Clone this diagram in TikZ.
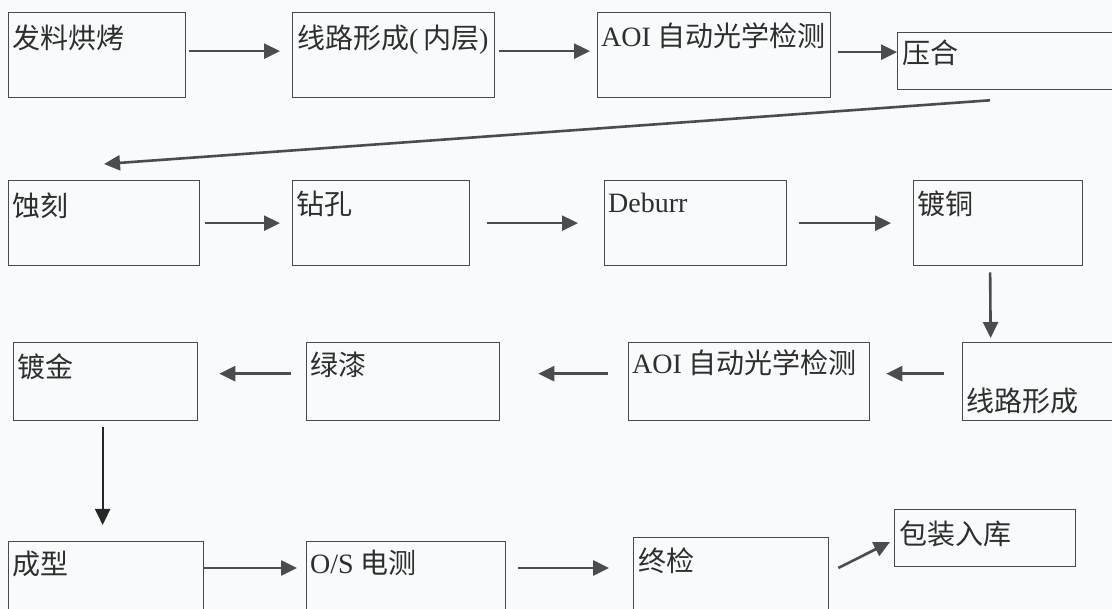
\documentclass[tikz,border=0pt]{standalone}
\usepackage{fontspec}
\setmainfont{Liberation Serif}
\newfontfamily\cjk{Noto Sans CJK SC}
\usetikzlibrary{arrows.meta}
\definecolor{bgc}{HTML}{F8FAFB}
\definecolor{boxc}{HTML}{4A4A4A}
\definecolor{arrc}{HTML}{474D50}
\definecolor{txtc}{HTML}{2E2E2E}
\begin{document}
\begin{tikzpicture}[x=1pt,y=-1pt,
  box/.style={draw=boxc, line width=1.3pt, inner sep=0pt, anchor=north west},
  txt/.style={anchor=base west, inner sep=0pt, font=\fontsize{28}{28}\selectfont, text=txtc},
  arr/.style={draw=arrc, line width=2.6pt, -{Triangle[length=16pt,width=15pt]}},
  varr/.style={draw=black!85, line width=2pt, -{Triangle[length=16pt,width=15pt]}}
]
\useasboundingbox (0,0) rectangle (1112,609);
\clip (0,0) rectangle (1112,609);
\fill[bgc] (0,0) rectangle (1112,609);

% row 1
\node[box, minimum width=177pt, minimum height=85pt] (a1) at (8,12) {};
\node[box, minimum width=202pt, minimum height=85pt] (a2) at (292,12) {};
\node[box, minimum width=233pt, minimum height=85pt] (a3) at (597,12) {};
\node[box, minimum width=230pt, minimum height=57pt] (a4) at (897,32) {};
% row 2
\node[box, minimum width=191pt, minimum height=85pt] (b1) at (8,180) {};
\node[box, minimum width=177pt, minimum height=85pt] (b2) at (292,180) {};
\node[box, minimum width=182pt, minimum height=85pt] (b3) at (604,180) {};
\node[box, minimum width=169pt, minimum height=85pt] (b4) at (913,180) {};
% row 3
\node[box, minimum width=184pt, minimum height=78pt] (c1) at (13,342) {};
\node[box, minimum width=193pt, minimum height=78pt] (c2) at (306,342) {};
\node[box, minimum width=241pt, minimum height=78pt] (c3) at (628,342) {};
\node[box, minimum width=170pt, minimum height=78pt] (c4) at (962,342) {};
% row 4
\node[box, minimum width=195pt, minimum height=85pt] (d1) at (8,541) {};
\node[box, minimum width=199pt, minimum height=85pt] (d2) at (306,541) {};
\node[box, minimum width=195pt, minimum height=85pt] (d3) at (633,537) {};
\node[box, minimum width=181pt, minimum height=57pt] (d4) at (894,509) {};

% texts
\node[txt] (ta1) at ([xshift=4pt,yshift=-37pt]a1.north west) {\cjk 发料烘烤};
\node[txt] (ta2) at ([xshift=5pt,yshift=-37pt]a2.north west) {\cjk 线路形成\rmfamily(\,\cjk 内层\rmfamily)};
\node[txt] (ta3) at ([xshift=4pt,yshift=-35pt]a3.north west) {AOI \cjk 自动光学检测};
\node[txt] (ta4) at ([xshift=5pt,yshift=-32pt]a4.north west) {\cjk 压合};
\node[txt] (tb1) at ([xshift=4pt,yshift=-37pt]b1.north west) {\cjk 蚀刻};
\node[txt] (tb2) at ([xshift=4pt,yshift=-35pt]b2.north west) {\cjk 钻孔};
\node[txt] (tb3) at ([xshift=4pt,yshift=-33pt]b3.north west) {Deburr};
\node[txt] (tb4) at ([xshift=4pt,yshift=-35pt]b4.north west) {\cjk 镀铜};
\node[txt] (tc1) at ([xshift=4pt,yshift=-36pt]c1.north west) {\cjk 镀金};
\node[txt] (tc2) at ([xshift=4pt,yshift=-34pt]c2.north west) {\cjk 绿漆};
\node[txt] (tc3) at ([xshift=4pt,yshift=-32pt]c3.north west) {AOI \cjk 自动光学检测};
\node[txt] (tc4) at ([xshift=4pt,yshift=10pt]c4.south west) {\cjk 线路形成};
\node[txt] (td1) at ([xshift=4pt,yshift=-34pt]d1.north west) {\cjk 成型};
\node[txt] (td2) at ([xshift=4pt,yshift=-32pt]d2.north west) {O/S \cjk 电测};
\node[txt] (td3) at ([xshift=5pt,yshift=-35pt]d3.north west) {\cjk 终检};
\node[txt] (td4) at ([xshift=5pt,yshift=-35pt]d4.north west) {\cjk 包装入库};

% connectors
\draw[arr] ([xshift=3pt,yshift=4pt]a1.east) -- ([xshift=-12pt,yshift=4pt]a2.west);
\draw[arr] ([xshift=4pt,yshift=4pt]a2.east) -- ([xshift=-7pt,yshift=4pt]a3.west);
\draw[arr] ([xshift=7pt,yshift=3pt]a3.east) -- ([yshift=3pt]a3.east -| a4.west);
\draw[arr] ([xshift=93pt,yshift=-10pt]a4.south west) -- ([xshift=96pt,yshift=16pt]b1.north west);

\draw[arr] ([xshift=5pt]b1.east) -- ([xshift=-12pt]b2.west);
\draw[arr] ([xshift=17pt]b2.east) -- ([xshift=-26pt]b3.west);
\draw[arr] ([xshift=12pt]b3.east) -- ([xshift=-22pt]b4.west);
\draw[arr] ([xshift=-8pt,yshift=-6pt]b4.south) -- ([xshift=-57pt,yshift=4pt]c4.north);

\draw[arr] ([xshift=-18pt,yshift=8pt]c4.west) -- ([xshift=16pt,yshift=8pt]c3.east);
\draw[arr] ([xshift=-20pt,yshift=8pt]c3.west) -- ([xshift=38pt,yshift=8pt]c2.east);
\draw[arr] ([xshift=-15pt,yshift=8pt]c2.west) -- ([xshift=21pt,yshift=8pt]c1.east);
\draw[varr] ([xshift=-3pt,yshift=-6pt]c1.south) -- ([xshift=-3.5pt,yshift=16pt]d1.north);

\draw[arr] ([yshift=-27pt]d1.north east) -- ([xshift=-9pt,yshift=-27pt]d2.north west);
\draw[arr] ([xshift=12pt,yshift=-27pt]d2.north east) -- ([xshift=-24pt,yshift=-31pt]d3.north west);
\draw[arr] ([xshift=9pt,yshift=-31pt]d3.north east) -- ([xshift=-4pt,yshift=-33pt]d4.north west);
\end{tikzpicture}
\end{document}
